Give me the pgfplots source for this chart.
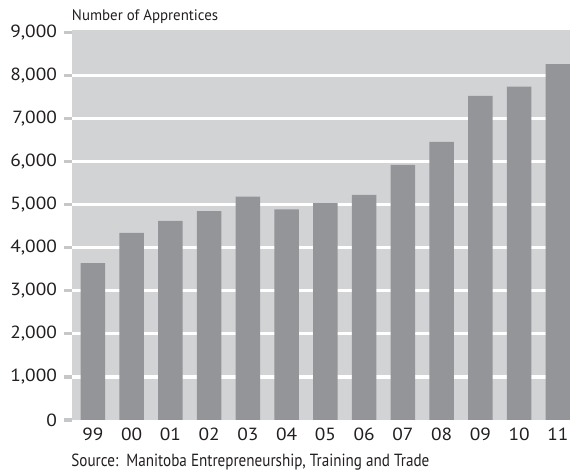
\documentclass[border=0pt]{standalone}
\usepackage{pgfplots}
\pgfplotsset{compat=1.18}
\usepackage{fontspec}
\setmainfont{PT Sans}[FakeStretch=0.86]
\newfontfamily\titlefont{PT Sans}[FakeStretch=0.98]
\newfontfamily\numfont{PT Sans}[FakeStretch=1.1]
\definecolor{bg}{HTML}{D1D3D4}
\definecolor{barc}{HTML}{939598}
\definecolor{tickc}{HTML}{C6C7C9}
\definecolor{txt}{HTML}{231F20}
\begin{document}
\begin{tikzpicture}[x=1pt,y=1pt]
\useasboundingbox (-36,-25) rectangle (249,210);
\begin{axis}[
  at={(0,0)}, anchor=south west,
  scale only axis, width=249pt, height=195pt,
  xmin=-0.542, xmax=12.31, ymin=0, ymax=9060,
  axis line style={draw=none},
  axis background/.style={fill=bg},
  ybar, bar width=12.25pt,
  xtick={0,1,...,12},
  xticklabels={99,00,01,02,03,04,05,06,07,08,09,10,11},
  xtick style={draw=none},
  ytick={0,1000,...,9000},
  ytick pos=left, tick align=outside,
  major tick length=3.75pt,
  ytick style={line width=1.6pt, color=tickc},
  minor ytick={1000,2000,...,8000},
  minor tick length=0pt,
  yminorgrids=true,
  minor grid style={white, line width=1.6pt},
  /pgf/number format/assume math mode=true,
  /pgf/number format/1000 sep={,},
  tick label style={font=\numfont\fontsize{8.8}{10}\selectfont, text=txt},
  xticklabel style={inner sep=0pt, yshift=0.1pt},
  yticklabel style={inner sep=0pt, xshift=-3.6pt},
  clip=false,
]
\addplot[fill=barc, draw=none] coordinates {
(0,3642) (1,4346) (2,4625) (3,4850) (4,5189) (5,4892) (6,5036)
(7,5229) (8,5926) (9,6461) (10,7530) (11,7746) (12,8266)
};
\end{axis}
\node[anchor=base west, inner sep=0pt, text=txt, font=\titlefont\fontsize{7.6}{9}\selectfont] at (-0.2,199.7) {Number of Apprentices};
\node[anchor=base west, inner sep=0pt, text=txt, font=\fontsize{8.8}{10}\selectfont] at (-0.5,-23.25) {Source:\ \ Manitoba Entrepreneurship, Training and Trade};
\end{tikzpicture}
\end{document}
